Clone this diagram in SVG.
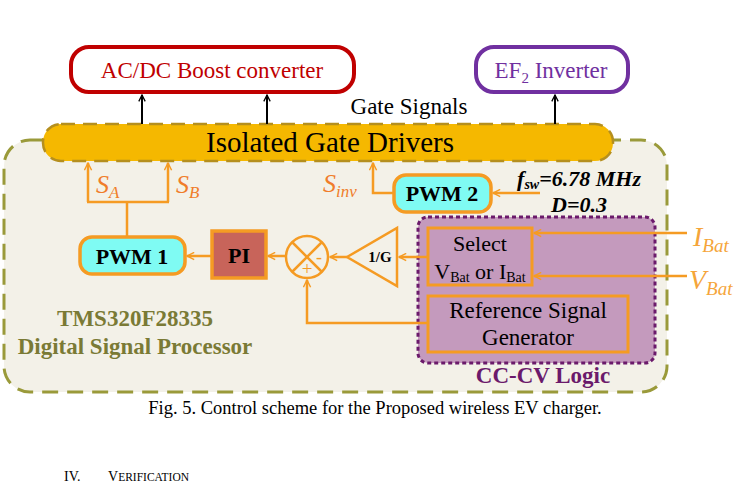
<svg xmlns="http://www.w3.org/2000/svg" width="741" height="488" viewBox="0 0 741 488" font-family="'Liberation Serif', 'Times New Roman', serif">
<defs>
<marker id="ao" viewBox="0 0 10 10" refX="9" refY="5" markerWidth="9" markerHeight="9" markerUnits="userSpaceOnUse" orient="auto"><path d="M1,1 L9,5 L1,9" fill="none" stroke="#F59B23" stroke-width="1.6"/></marker>
<marker id="ak" viewBox="0 0 10 10" refX="9" refY="5" markerWidth="8" markerHeight="8" markerUnits="userSpaceOnUse" orient="auto"><path d="M1,1 L9,5 L1,9" fill="none" stroke="#000" stroke-width="1.6"/></marker>
</defs>
<style>
.ol{fill:none;stroke:#F59B23;stroke-width:2.5}
.oa{fill:none;stroke:#F59B23;stroke-width:2.5;marker-end:url(#ao)}
.ka{fill:none;stroke:#000;stroke-width:2;marker-end:url(#ak)}
.pwm{fill:#7FFBF3;stroke:#F59B23;stroke-width:3.5}
.b{font-weight:bold}
.sig{fill:#F07D2A;font-style:italic}
.inp{fill:#F5A53A;font-style:italic}
</style>
<rect width="741" height="488" fill="#fff"/>

<g id="dsp">
<rect x="4" y="140" width="663" height="252" rx="26" fill="#F3F1E8" stroke="#9A9A3A" stroke-width="3" stroke-dasharray="16,9"/>
<text x="135" y="326" text-anchor="middle" font-size="23" class="b" fill="#7A7A35">TMS320F28335</text>
<text x="135" y="354" text-anchor="middle" font-size="23" class="b" fill="#7A7A35">Digital Signal Processor</text>
</g>

<g id="acdc">
<rect x="71" y="47" width="283" height="45" rx="18" fill="#fff" stroke="#C00000" stroke-width="4"/>
<text x="212" y="78" text-anchor="middle" font-size="23" fill="#C00000">AC/DC Boost converter</text>
</g>
<g id="ef2">
<rect x="476" y="47" width="152" height="45" rx="18" fill="#fff" stroke="#7030A0" stroke-width="4"/>
<text x="551" y="78" text-anchor="middle" font-size="23" fill="#7030A0">EF<tspan font-size="15" dy="5">2</tspan><tspan dy="-5"> Inverter</tspan></text>
</g>

<g id="gate-drivers">
<rect x="43" y="124" width="570" height="37" rx="18" fill="#F5B800" stroke="#B58F1E" stroke-width="2.5" stroke-dasharray="14,8"/>
<text x="330" y="152" text-anchor="middle" font-size="29" fill="#000">Isolated Gate Drivers</text>
</g>
<text x="409" y="114" text-anchor="middle" font-size="23" fill="#000">Gate Signals</text>

<g id="pwm2">
<rect x="394" y="175" width="97" height="37" rx="12" class="pwm"/>
<text x="442" y="201" text-anchor="middle" font-size="22" class="b">PWM 2</text>
</g>
<text x="579" y="186" text-anchor="middle" font-size="22" class="b" font-style="italic">f<tspan font-size="14" dy="3">sw</tspan><tspan dy="-3">=6.78 MHz</tspan></text>
<text x="579" y="212" text-anchor="middle" font-size="22" class="b" font-style="italic">D=0.3</text>

<g id="pwm1">
<rect x="80" y="237" width="105" height="37" rx="12" class="pwm"/>
<text x="132" y="264" text-anchor="middle" font-size="22" class="b">PWM 1</text>
</g>

<g id="pi">
<rect x="212" y="231" width="54" height="47" fill="#C8645A" stroke="#F59B23" stroke-width="3.5"/>
<text x="239" y="263" text-anchor="middle" font-size="22" class="b">PI</text>
</g>

<g id="sum">
<circle cx="307" cy="257" r="21" fill="none" stroke="#F59B23" stroke-width="2.5"/>
<path d="M292,242 L322,272 M322,242 L292,272" class="ol"/>
<text x="319" y="263" text-anchor="middle" font-size="18" fill="#F59B23">-</text>
<text x="307" y="275" text-anchor="middle" font-size="19" fill="#F59B23">+</text>
</g>

<g id="gain">
<path d="M347,257 L397,228 L397,286 Z" fill="none" stroke="#F59B23" stroke-width="2.5"/>
<text x="380" y="262" text-anchor="middle" font-size="15" class="b">1/G</text>
</g>

<g id="cccv">
<rect x="418" y="217" width="237" height="146" rx="10" fill="#C49ABD" stroke="#6B1A6B" stroke-width="3" stroke-dasharray="4,3"/>
<text x="543" y="383" text-anchor="middle" font-size="23" class="b" fill="#6B1A6B">CC-CV Logic</text>
</g>
<g id="select">
<rect x="428" y="228" width="104" height="57" fill="none" stroke="#F59B23" stroke-width="3"/>
<text x="480" y="251" text-anchor="middle" font-size="22">Select</text>
<text x="480" y="279" text-anchor="middle" font-size="22">V<tspan font-size="14" dy="3">Bat</tspan><tspan dy="-3"> or I</tspan><tspan font-size="14" dy="3">Bat</tspan></text>
</g>
<g id="refgen">
<rect x="428" y="296" width="200" height="56" fill="none" stroke="#F59B23" stroke-width="3"/>
<text x="528" y="318" text-anchor="middle" font-size="23">Reference Signal</text>
<text x="528" y="345" text-anchor="middle" font-size="23">Generator</text>
</g>

<text x="693" y="246" font-size="28" class="inp">I<tspan font-size="19" dy="6">Bat</tspan></text>
<text x="689" y="289" font-size="28" class="inp">V<tspan font-size="19" dy="6">Bat</tspan></text>

<text x="96" y="193" font-size="26" class="sig">S<tspan font-size="17" dy="5">A</tspan></text>
<text x="176" y="193" font-size="26" class="sig">S<tspan font-size="17" dy="5">B</tspan></text>
<text x="323" y="192" font-size="26" class="sig">S<tspan font-size="17" dy="5">inv</tspan></text>

<g id="connectors">
<path d="M142,124 L142,95" class="ka"/>
<path d="M267,124 L267,95" class="ka"/>
<path d="M555,124 L555,95" class="ka"/>
<path d="M127,237 L127,202" class="ol"/>
<path d="M88,202 L88,163" class="oa"/>
<path d="M168,202 L168,163" class="oa"/>
<path d="M87,202 L169,202" class="ol"/>
<path d="M394,193 L373,193 L373,163" class="oa"/>
<path d="M540,193 L493,193" class="oa"/>
<path d="M212,256 L187,256" class="oa"/>
<path d="M286,256 L268,256" class="oa"/>
<path d="M347,257 L330,257" class="oa"/>
<path d="M428,257 L399,257" class="oa"/>
<path d="M428,323 L307,323 L307,280" class="oa"/>
<path d="M687,233 L534,233" class="oa"/>
<path d="M687,276 L534,276" class="oa"/>
</g>

<text x="375" y="414" text-anchor="middle" font-size="18.5" fill="#000">Fig. 5. Control scheme for the Proposed wireless EV charger.</text>
<text x="64" y="481" font-size="14" fill="#000">IV.</text>
<text x="108" y="481" font-size="14" fill="#000">V<tspan font-size="11.5">ERIFICATION</tspan></text>
</svg>
